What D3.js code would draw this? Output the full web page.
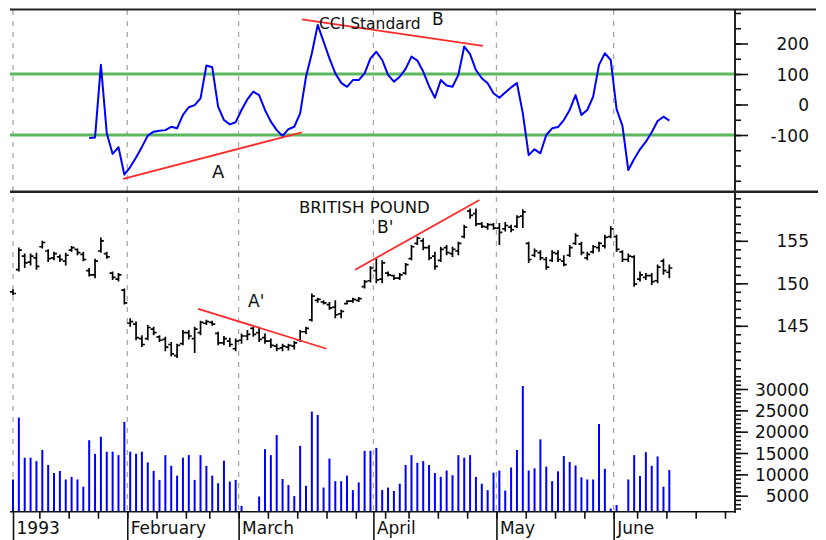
<!DOCTYPE html>
<html><head><meta charset="utf-8">
<script src="https://cdn.jsdelivr.net/npm/d3@7/dist/d3.min.js"></script>
<style>html,body{margin:0;padding:0;background:#fff}svg{display:block}</style>
</head><body><svg id="chart" width="826" height="540"></svg>
<script>
// ---------- data ----------
const holidays = ["1993-02-15", "1993-04-09", "1993-05-31"];
const firstDay = new Date(1993, 0, 4), lastAxisDay = new Date(1993, 5, 30);
const monthLabels = ["1993", "February", "March", "April", "May", "June"];

const opens = [149.0,151.6,153.2,152.5,153.0,154.3,153.8,153.0,153.1,152.6,153.9,154.0,153.4,151.5,151.0,153.8,153.5,151.2,150.5,149.2,
  145.3,145.2,143.5,143.5,144.6,143.7,143.4,142.8,141.5,142.9,144.2,143.5,144.2,145.3,145.4,144.1,143.0,143.2,142.3,143.3,
  143.8,144.7,144.2,143.6,143.2,142.6,142.4,142.5,142.6,143.3,144.3,145.7,148.0,147.8,147.5,147.2,146.4,147.6,147.9,148.0,
  149.6,150.3,151.5,150.5,151.2,150.9,150.6,151.2,152.9,154.7,155.0,154.2,153.2,152.7,154.2,153.5,153.8,155.5,158.5,158.2,
  157.0,156.6,156.9,156.5,156.4,156.6,156.7,157.9,154.7,153.3,153.6,152.8,152.7,153.5,152.6,153.3,154.7,154.6,153.0,153.7,
  154.2,154.4,155.5,155.5,153.7,152.8,153.1,150.5,150.7,150.9,150.3,152.6,151.3];
const highs = [149.3,154.2,153.5,153.5,153.6,155.0,154.0,153.7,153.4,153.6,154.4,154.1,153.7,151.8,152.9,155.4,153.7,151.4,151.2,149.4,
  145.9,145.5,143.9,145.1,144.9,143.9,143.7,143.1,142.9,144.5,144.5,144.9,145.6,145.7,145.6,144.3,143.8,143.6,143.5,144.1,
  144.5,144.9,144.9,144.1,143.5,142.9,142.9,142.9,143.2,144.5,144.9,148.8,148.3,148.0,147.8,148.0,146.9,148.0,148.3,148.4,
  150.4,152.0,152.9,152.7,151.4,151.0,151.2,152.4,154.5,155.5,155.3,154.5,153.7,154.3,154.5,154.3,154.9,156.9,158.8,158.8,
  157.2,157.1,157.1,157.1,157.2,156.9,158.0,158.7,154.9,154.1,153.9,153.1,153.9,153.9,153.3,154.5,155.9,154.9,153.7,154.5,
  154.9,155.7,156.7,155.7,153.9,153.5,153.3,151.4,151.2,151.2,152.2,152.9,152.2];
const lows = [148.6,151.4,151.8,152.1,151.6,154.1,152.5,152.7,152.5,152.1,153.7,153.3,152.6,150.8,150.6,153.6,152.9,150.4,150.2,147.5,
  144.9,143.3,142.5,143.3,143.9,143.1,142.0,141.4,141.2,142.7,143.4,141.8,143.9,145.1,145.0,142.7,142.7,142.5,142.0,142.9,
  143.3,143.7,143.1,142.9,142.4,142.0,142.0,142.1,142.2,143.1,144.0,145.5,147.7,147.5,146.9,145.9,145.9,147.5,147.7,147.8,
  149.4,150.1,150.0,150.0,150.8,150.4,150.4,151.0,152.7,154.5,153.9,152.7,151.6,152.5,153.3,153.1,153.3,155.3,157.6,156.7,
  156.5,156.3,156.3,154.5,156.1,156.0,156.5,156.5,152.4,153.1,152.7,151.6,152.5,152.5,152.0,153.1,154.5,153.3,152.7,153.5,
  153.7,154.1,155.3,153.7,152.5,152.5,149.6,150.2,150.4,149.8,150.0,151.0,150.6];
const closes = [148.8,153.9,152.4,153.2,152.0,154.8,152.9,153.5,152.8,153.3,154.2,153.6,152.8,151.0,152.6,155.0,153.1,150.7,151.0,147.7,
  145.5,143.6,142.8,144.8,144.2,143.3,142.5,141.7,142.7,144.2,143.8,144.6,145.4,145.5,145.2,143.0,143.5,142.8,143.2,143.8,
  144.0,144.0,143.4,143.2,142.7,142.3,142.6,142.7,143.0,144.3,144.7,148.5,148.1,147.7,147.1,146.3,146.7,147.9,148.1,148.2,
  150.2,151.8,150.4,152.4,151.0,150.6,151.0,152.2,154.3,155.3,154.2,153.0,152.0,154.0,153.6,154.0,154.7,156.6,158.0,157.0,
  156.7,156.9,156.5,156.0,156.8,156.3,157.8,158.4,152.8,153.8,153.0,151.9,153.6,152.8,152.2,154.2,155.6,153.6,153.4,154.3,
  154.7,155.4,156.4,154.0,152.8,153.2,149.9,151.0,150.9,150.2,151.9,151.5,151.8];

const volumes = [8800,23300,13900,13900,13100,15700,12200,10300,10800,8800,9400,8800,7100,18000,14800,18800,15300,15300,14500,22300,
  15300,14800,15300,12800,10800,8700,14500,12000,9700,13900,14500,8700,14500,12000,9700,7900,13200,8300,8700,2600,
  1200,1200,4800,15900,14500,19200,8900,7500,4900,16700,7300,24700,23900,6900,13700,8400,8400,9700,6300,8100,
  15500,15500,16200,6300,6900,6100,7800,12200,14500,12700,13100,12200,10300,9400,10900,9800,14500,13900,14500,9400,
  7800,6300,10400,10900,6200,11600,15700,30700,10900,11400,18200,11800,8400,10700,14300,12900,12100,9300,8800,8800,
  21800,11300,2000,2800,1200,8800,14500,9600,15200,12000,14200,7100,11000];

// CCI begins on trading day 13
const cciStart = 13;
const cciValues = [-110,-108,130,-94,-162,-140,-230,-205,-174,-139,-102,-89,-86,-84,-73,-78,-34,-9,-2,20,
  128,122,-7,-51,-65,-58,-18,17,42,31,-18,-56,-84,-103,-81,-73,-29,91,168,261,
  206,151,102,71,58,80,80,102,151,173,146,97,75,91,117,157,144,108,60,22,
  80,62,58,97,190,165,113,86,70,37,22,39,56,70,-29,-166,-147,-160,-100,-78,
  -74,-51,-18,31,-34,-18,26,130,168,146,-15,-70,-215,-179,-147,-122,-91,-54,-40,-53];

const cciLevels = [100, -100];
const cciTickValues = [300, 250, 200, 150, 100, 50, 0, -50, -100, -150, -200, -250];
const cciLabels = [200, 100, 0, -100];
const priceMinorTicks = d3.range(140, 160.5, 1);
const priceLabels = [145, 150, 155];
const volumeMinorTicks = d3.range(2000, 33001, 1000);
const volumeLabels = [5000, 10000, 15000, 20000, 25000, 30000];

// trend lines in (trading-day, value) units
const cciTrends = [{a: [18.8, -244], b: [49.3, -91]}, {a: [49.3, 279], b: [80.2, 192]}];
const priceTrends = [{a: [31.6, 147.0], b: [53.5, 142.3]}, {a: [58.4, 151.6], b: [79.6, 159.8]}];

// ---------- trading calendar ----------
const fmt = d3.timeFormat("%Y-%m-%d");
const days = [];
for (let d = new Date(firstDay); d <= lastAxisDay; d = d3.timeDay.offset(d, 1)) {
  const wd = d.getDay();
  if (wd === 0 || wd === 6 || holidays.includes(fmt(d))) continue;
  days.push(new Date(d));
}
const monthStarts = [], weekStarts = [];
days.forEach((d, i) => {
  if (i === 0 || d.getMonth() !== days[i - 1].getMonth()) monthStarts.push(i);
  if (i > 0 && d.getDay() < days[i - 1].getDay()) weekStarts.push(i);
});

// ---------- layout ----------
const svg = d3.select("#chart");
const left = 10, axisX = 735;
const x = d3.scaleLinear().domain([0, 100]).range([13, 599]);
const yCci = d3.scaleLinear().domain([-300, 300]).range([196, 13]);
const yPrice = d3.scaleLinear().domain([140, 160]).range([368.3, 198.3]);
const yVol = d3.scaleLinear().domain([0, 30000]).range([517, 389]);
const volBase = 511.7;
const font = "DejaVu Sans, Verdana, sans-serif";

svg.append("defs").append("clipPath").attr("id", "plot")
  .append("rect").attr("x", left).attr("y", 9).attr("width", axisX - left).attr("height", volBase - 9);

const boundary = i => x(Math.max(i - 0.5, 0));

// month grid lines
svg.append("g").selectAll("line").data(monthStarts).join("line")
  .attr("x1", boundary).attr("x2", boundary).attr("y1", 10).attr("y2", volBase)
  .attr("stroke", "#a8a8a8").attr("stroke-width", 1.3).attr("stroke-dasharray", "5,6");

// CCI reference levels
svg.append("g").selectAll("line").data(cciLevels).join("line")
  .attr("x1", left).attr("x2", axisX).attr("y1", d => yCci(d)).attr("y2", d => yCci(d))
  .attr("stroke", "#5cb85c").attr("stroke-width", 3);

// CCI line
const cciPts = cciValues.map((v, k) => ({i: cciStart + k, v}));
svg.append("path").datum(cciPts)
  .attr("fill", "none").attr("stroke", "#0000ff").attr("stroke-width", 2).attr("stroke-linejoin", "round")
  .attr("d", d3.line().x(d => x(d.i)).y(d => yCci(d.v)));

// price bars (OHLC)
const bars = highs.map((h, i) => ({i, o: opens[i], h, l: lows[i], c: closes[i]}));
svg.append("g").attr("clip-path", "url(#plot)").selectAll("path").data(bars).join("path")
  .attr("fill", "none").attr("stroke", "#000").attr("stroke-width", 1.7)
  .attr("d", d => {
    const cx = x(d.i);
    return `M${cx},${yPrice(d.h)}V${yPrice(d.l)}M${cx - 3},${yPrice(d.o)}H${cx}M${cx},${yPrice(d.c)}H${cx + 3}`;
  });

// volume
svg.append("g").selectAll("line").data(volumes).join("line")
  .attr("x1", (v, i) => x(i)).attr("x2", (v, i) => x(i))
  .attr("y1", volBase).attr("y2", v => Math.min(yVol(v), volBase))
  .attr("stroke", "#0000ff").attr("stroke-width", 2);

// trend lines
const trendLine = (g, data, ys) => g.selectAll("line").data(data).join("line")
  .attr("x1", d => x(d.a[0])).attr("y1", d => ys(d.a[1]))
  .attr("x2", d => x(d.b[0])).attr("y2", d => ys(d.b[1]))
  .attr("stroke", "#ff2a2a").attr("stroke-width", 1.8);
trendLine(svg.append("g"), cciTrends, yCci);
trendLine(svg.append("g"), priceTrends, yPrice);

// panel frame
const frame = svg.append("g").attr("stroke", "#222");
frame.append("line").attr("x1", left).attr("x2", 816).attr("y1", 9.5).attr("y2", 9.5).attr("stroke-width", 2);
frame.append("line").attr("x1", left).attr("x2", 818).attr("y1", 191.7).attr("y2", 191.7).attr("stroke-width", 2.5);
frame.append("line").attr("x1", axisX).attr("x2", axisX).attr("y1", 9).attr("y2", volBase + 1).attr("stroke-width", 2);

// right axes
function rightAxis(scale, minor, labels) {
  const g = svg.append("g").attr("transform", `translate(${axisX},0)`);
  g.call(d3.axisRight(scale).tickValues(minor).tickSize(6).tickFormat(""));
  g.append("g").call(d3.axisRight(scale).tickValues(labels).tickSize(13).tickFormat(d => String(d)));
  g.selectAll(".domain").remove();
  g.selectAll("line").attr("stroke", "#111").attr("stroke-width", 1.6);
  g.selectAll("text").attr("x", 74).attr("text-anchor", "end").attr("dy", "0.36em")
    .attr("font-family", font).attr("font-size", 17).attr("fill", "#111");
  return g;
}
rightAxis(yCci, cciTickValues, cciLabels);
rightAxis(yPrice, priceMinorTicks, priceLabels);
rightAxis(yVol, volumeMinorTicks, volumeLabels);

// bottom time axis
const bottom = svg.append("g").attr("transform", `translate(0,${volBase})`);
bottom.call(d3.axisBottom(x).tickValues(weekStarts.map(i => i - 0.5).filter(v => x(v) <= axisX)).tickSize(7).tickFormat(""));
bottom.select(".domain").remove();
bottom.append("line").attr("x1", left).attr("x2", axisX + 1).attr("stroke", "#111").attr("stroke-width", 2.2);
const mg = bottom.append("g").call(d3.axisBottom(x).tickValues(monthStarts.map(i => Math.max(i - 0.5, 0))).tickSize(30)
  .tickFormat((d, k) => monthLabels[k]));
mg.select(".domain").remove();
mg.selectAll("text").attr("text-anchor", "start").attr("x", 3).attr("y", 22).attr("dy", null)
  .attr("font-family", font).attr("font-size", 17).attr("fill", "#111");
bottom.selectAll("line").attr("stroke", "#111").attr("stroke-width", 1.6);

// titles and annotations
const txt = (s, tx, ty, size) => svg.append("text").attr("x", tx).attr("y", ty).text(s)
  .attr("font-family", font).attr("font-size", size).attr("fill", "#111");
txt("CCI Standard", 319, 29, 15.5);
txt("B", 432, 25, 17);
txt("A", 212, 178, 18);
txt("BRITISH POUND", 299, 213, 16.5);
txt("B'", 377, 233, 17);
txt("A'", 248, 307, 17);
</script></body></html>
